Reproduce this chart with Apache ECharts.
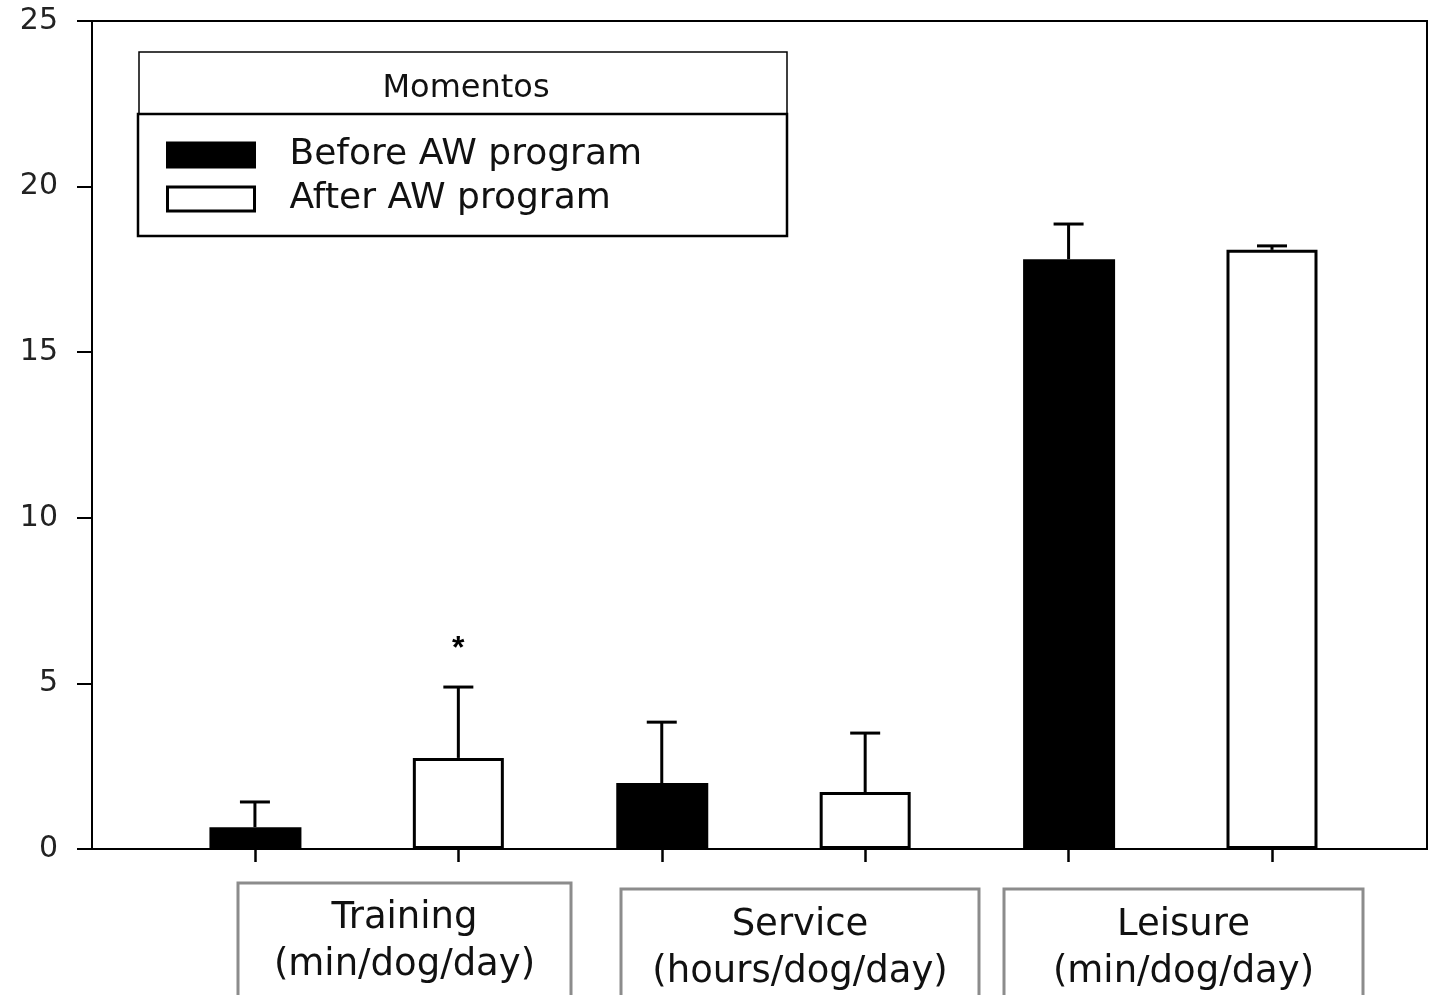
<!DOCTYPE html>
<html style="height: 100%">
   <head>
       <meta charset="utf-8">
   </head>
   <body style="height: 100%; margin: 0; background: #fff">
       <div id="container" style="width: 1434px; height: 995px"></div>
       <script src="https://cdn.jsdelivr.net/npm/echarts@6/dist/echarts.min.js"></script>
       <script type="text/javascript">
// values (means and SD, upper error bar only)
var groups = ['Training\n(min/dog/day)', 'Service\n(hours/dog/day)', 'Leisure\n(min/dog/day)'];
var seriesNames = ['Before AW program', 'After AW program'];
var before = [0.66, 1.99, 17.81];
var beforeSD = [0.76, 1.84, 1.06];
var after = [2.75, 1.72, 18.09];
var afterSD = [2.14, 1.78, 0.12];
var sigMarks = ['', '*', '', '', '', ''];   // one per bar, in drawing order
var yTicks = [0, 5, 10, 15, 20, 25];

var bodyFont = '"DejaVu Sans"';

// bar i of group g sits at x = 2g+1 (before) and 2g+2 (after)
var beforeData = before.map(function (v, g) { return [2 * g + 1, v]; });
var afterData = after.map(function (v, g) { return [2 * g + 2, v]; });
var errData = [];
before.forEach(function (v, g) {
    errData.push([2 * g + 1, v, v + beforeSD[g]]);
    errData.push([2 * g + 2, after[g], after[g] + afterSD[g]]);
});

var dom = document.getElementById("container");
var myChart = echarts.init(dom);

// label boxes under the axis
var boxes = [
    {x: 238, y: 883, w: 333, cy: 942},
    {x: 621, y: 889, w: 358, cy: 949},
    {x: 1004, y: 889, w: 359, cy: 949}
];
var graphics = [
    {type: 'rect', shape: {x: 139, y: 52, width: 648, height: 62},
     style: {fill: '#fff', stroke: '#000', lineWidth: 1.5}, z: 5},
    {type: 'text', x: 466, y: 89, z: 6,
     style: {text: 'Momentos', font: '32px ' + bodyFont, fill: '#111',
             align: 'center', verticalAlign: 'middle'}},
    {type: 'rect', shape: {x: 138, y: 114, width: 649, height: 122},
     style: {fill: '#fff', stroke: '#000', lineWidth: 2.5}, z: 5}
];
boxes.forEach(function (b, i) {
    graphics.push({type: 'rect', shape: {x: b.x, y: b.y, width: b.w, height: 140},
        style: {fill: '#fff', stroke: '#8c8c8c', lineWidth: 3}});
    graphics.push({type: 'text', x: b.x + b.w / 2, y: b.cy,
        style: {text: groups[i], font: '37px ' + bodyFont, fill: '#111',
                align: 'center', verticalAlign: 'middle', lineHeight: 47}});
});

var option = {
    backgroundColor: '#fff',
    animation: false,
    grid: {
        left: 92, right: 7, top: 21, bottom: 146,
        show: true, borderColor: '#000', borderWidth: 2
    },
    legend: {
        orient: 'vertical',
        left: 166, top: 133,
        padding: 0,
        icon: 'rect',
        itemWidth: 87, itemHeight: 24, itemGap: 0,
        z: 10,
        itemStyle: {borderWidth: 3},
        textStyle: {fontFamily: 'DejaVu Sans', fontSize: 36, color: '#111',
                    lineHeight: 44, padding: [0, 0, 0, 30]},
        data: seriesNames
    },
    xAxis: {
        type: 'value',
        min: 0.199, max: 6.762,
        axisLine: {lineStyle: {color: '#000', width: 2}},
        axisTick: {show: true, length: 13, lineStyle: {color: '#000', width: 2.5},
                   customValues: [1, 2, 3, 4, 5, 6]},
        axisLabel: {show: false},
        splitLine: {show: false}
    },
    yAxis: {
        type: 'value',
        min: 0, max: 25, interval: 5,
        axisLine: {show: true, lineStyle: {color: '#000', width: 2}},
        axisTick: {show: true, length: 15, lineStyle: {color: '#000', width: 2}},
        axisLabel: {fontFamily: 'DejaVu Sans', fontSize: 30, color: '#222', margin: 34,
                    customValues: yTicks},
        splitLine: {show: false}
    },
    series: [
        {
            name: seriesNames[0], type: 'bar', data: beforeData,
            barWidth: 92, barGap: '-100%',
            itemStyle: {color: '#000', borderColor: '#000', borderWidth: 0}
        },
        {
            name: seriesNames[1], type: 'bar', data: afterData,
            barWidth: 91, barGap: '-100%',
            itemStyle: {color: '#fff', borderColor: '#000', borderWidth: 3}
        },
        {
            type: 'custom', data: errData, z: 3,
            renderItem: function (params, api) {
                var top = api.coord([api.value(0), api.value(2)]);
                var base = api.coord([api.value(0), api.value(1)]);
                var kids = [
                    {type: 'line', shape: {x1: base[0], y1: base[1], x2: top[0], y2: top[1]},
                     style: {stroke: '#000', lineWidth: 3}},
                    {type: 'line', shape: {x1: top[0] - 15, y1: top[1], x2: top[0] + 15, y2: top[1]},
                     style: {stroke: '#000', lineWidth: 3}}
                ];
                var m = sigMarks[params.dataIndex];
                if (m) {
                    kids.push({type: 'text', x: top[0], y: top[1] - 38,
                        style: {text: m, font: 'bold 32px "Liberation Sans"', fill: '#000',
                                align: 'center', verticalAlign: 'middle'}});
                }
                return {type: 'group', children: kids};
            }
        }
    ],
    graphic: graphics
};

myChart.setOption(option);
       </script>
   </body>
</html>
